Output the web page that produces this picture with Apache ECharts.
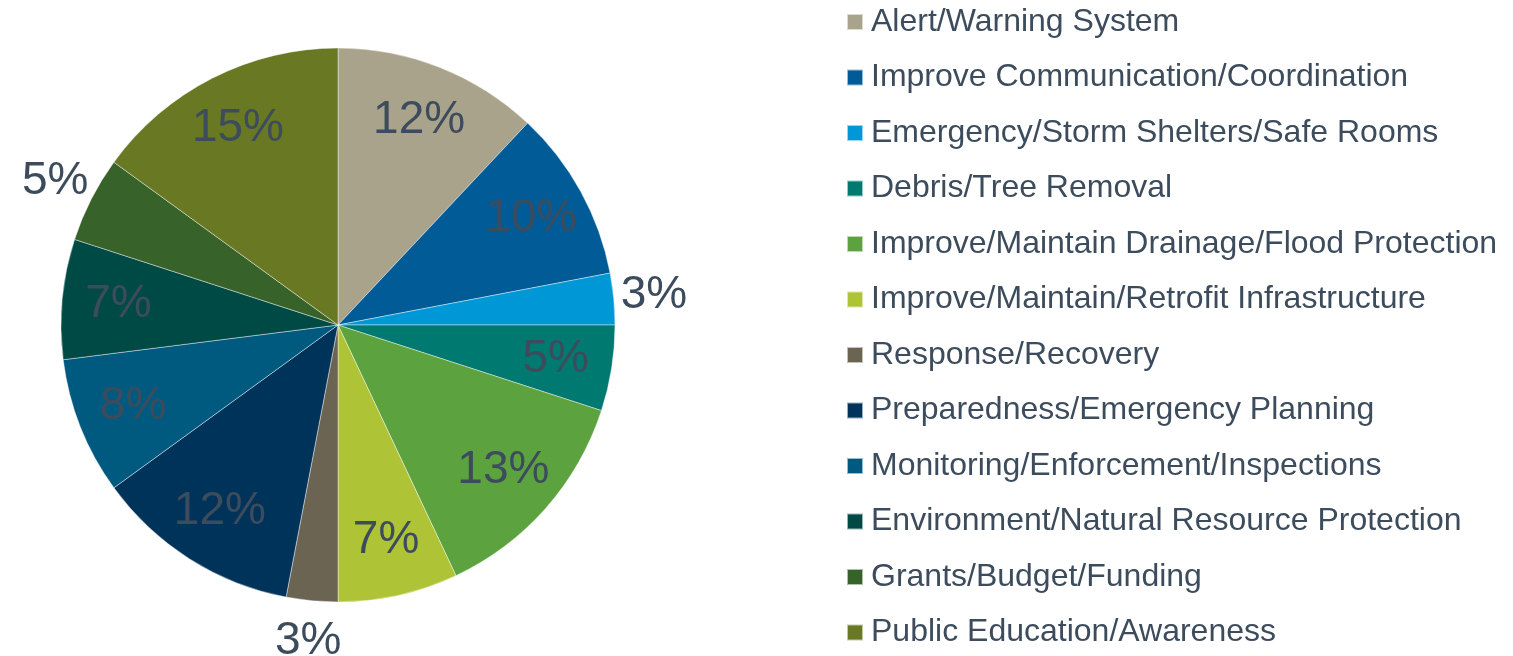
<!DOCTYPE html>
<html>
<head>
<meta charset="utf-8">
<script src="https://cdn.jsdelivr.net/npm/echarts@6/dist/echarts.min.js"></script>
<style>
  html, body { margin: 0; padding: 0; background: #ffffff; }
  #chart { width: 1513px; height: 656px; }
</style>
</head>
<body>
<div id="chart"></div>
<script>
// Mitigation action categories and their share of all actions (percent)
const categories = [
  'Alert/Warning System',
  'Improve Communication/Coordination',
  'Emergency/Storm Shelters/Safe Rooms',
  'Debris/Tree Removal',
  'Improve/Maintain Drainage/Flood Protection',
  'Improve/Maintain/Retrofit Infrastructure',
  'Response/Recovery',
  'Preparedness/Emergency Planning',
  'Monitoring/Enforcement/Inspections',
  'Environment/Natural Resource Protection',
  'Grants/Budget/Funding',
  'Public Education/Awareness'
];
const shares = [12, 10, 3, 5, 13, 7, 3, 12, 8, 7, 5, 15];
const sliceColors = [
  '#aaa38c', '#005b96', '#0097d7', '#007a70', '#5ca340', '#aec335',
  '#6b6452', '#00335a', '#005a80', '#004a45', '#37622a', '#687823'
];
// Slices whose percentage sits outside the pie
const outsideLabel = [false, false, true, false, false, false, true, false, false, false, true, false];

const textColor = '#3d4c5c';
const fontFamily = '"Liberation Sans", Arial, sans-serif';
const cx = 338, cy = 325, R = 277;

const sliceData = categories.map((name, i) => ({
  name: name,
  value: shares[i],
  itemStyle: { color: sliceColors[i] }
}));

function labelRing(showOutside) {
  return categories.map((name, i) => ({
    name: name,
    value: shares[i],
    label: { show: outsideLabel[i] === showOutside }
  }));
}

const chart = echarts.init(document.getElementById('chart'), null, { renderer: 'canvas' });
chart.setOption({
  animation: false,
  backgroundColor: '#ffffff',
  legend: {
    orient: 'vertical',
    left: 846,
    top: 6,
    height: 650,
    padding: 0,
    icon: 'rect',
    itemWidth: 16,
    itemHeight: 16,
    itemGap: 23.5,
    selectedMode: false,
    data: categories.map((name, i) => ({ name: name, itemStyle: { color: sliceColors[i] } })),
    textStyle: {
      fontSize: 32,
      lineHeight: 32,
      color: textColor,
      fontFamily: fontFamily,
      padding: [0, 0, 0, 3]
    }
  },
  series: [
    {
      // the pie itself
      type: 'pie',
      center: [cx, cy],
      radius: [0, R],
      startAngle: 90,
      clockwise: true,
      silent: true,
      label: { show: false },
      labelLine: { show: false },
      itemStyle: { borderColor: 'rgba(255,255,255,0.6)', borderWidth: 0.7 },
      data: sliceData
    },
    {
      // transparent ring carrying the in-slice percentages
      type: 'pie',
      center: [cx, cy],
      radius: [R * 0.57, R],
      startAngle: 90,
      clockwise: true,
      silent: true,
      itemStyle: { color: 'rgba(0,0,0,0)' },
      label: {
        position: 'inside',
        formatter: '{c}%',
        fontSize: 46,
        color: textColor,
        fontFamily: fontFamily
      },
      labelLine: { show: false },
      data: labelRing(false)
    },
    {
      // transparent ring carrying the percentages placed beyond the rim
      type: 'pie',
      center: [cx, cy],
      radius: [R * 1.05, R * 1.22],
      startAngle: 90,
      clockwise: true,
      silent: true,
      itemStyle: { color: 'rgba(0,0,0,0)' },
      label: {
        position: 'inside',
        formatter: '{c}%',
        fontSize: 46,
        color: textColor,
        fontFamily: fontFamily
      },
      labelLine: { show: false },
      data: labelRing(true)
    }
  ]
});
</script>
</body>
</html>
